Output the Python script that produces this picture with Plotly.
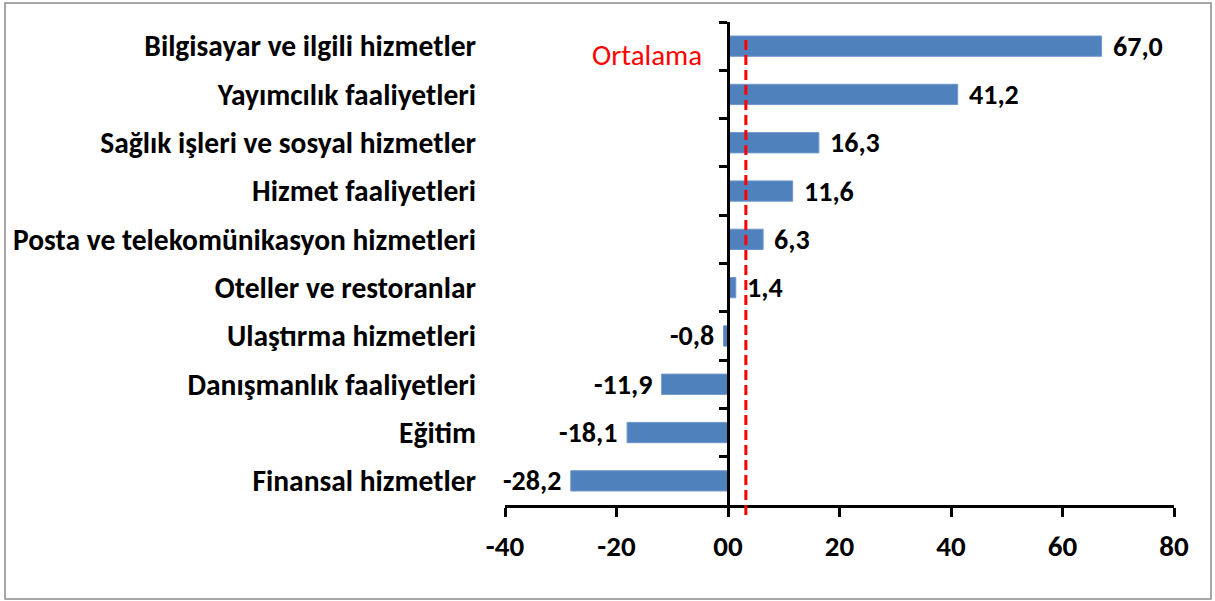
import plotly.graph_objects as go

categories = [
    "Bilgisayar ve ilgili hizmetler",
    "Yayımcılık faaliyetleri",
    "Sağlık işleri ve sosyal hizmetler",
    "Hizmet faaliyetleri",
    "Posta ve telekomünikasyon hizmetleri",
    "Oteller ve restoranlar",
    "Ulaştırma hizmetleri",
    "Danışmanlık faaliyetleri",
    "Eğitim",
    "Finansal hizmetler",
]
values = [67.0, 41.2, 16.3, 11.6, 6.3, 1.4, -0.8, -11.9, -18.1, -28.2]
average_value = 3.2
average_label = "Ortalama"
x_tickvals = [-40, -20, 0, 20, 40, 60, 80]
x_ticktext = ["-40", "-20", "00", "20", "40", "60", "80"]

FONT = "Carlito, Calibri, Lato, sans-serif"
W, H = 1215, 601
L, R, T, B = 505, 41, 22, 96
pw, ph = W - L - R, H - T - B
n = len(categories)

fig = go.Figure()
fig.add_trace(go.Bar(
    x=values, y=categories, orientation="h",
    marker=dict(color="#4F81BD", line=dict(color="#6F96CB", width=1)),
    width=0.42, hoverinfo="skip", showlegend=False,
))
# invisible trace to drive the axis drawn at zero
fig.add_trace(go.Scatter(
    x=[0] * n, y=categories, yaxis="y2", mode="markers",
    marker=dict(opacity=0), hoverinfo="skip", showlegend=False,
))

for v, c in zip(values, categories):
    fig.add_annotation(
        x=v, y=c, text="{:.1f}".format(v).replace(".", ","),
        showarrow=False, xanchor="left" if v >= 0 else "right",
        yanchor="middle",
        xshift=9 if v >= 0 else -8,
        font=dict(family=FONT, size=28, color="black", weight="bold"),
    )

fig.add_annotation(
    x=average_value, xref="x", y=(505 - 55) / ph, yref="paper",
    text=average_label, showarrow=False, xanchor="right", yanchor="middle",
    xshift=-42,
    font=dict(family=FONT, size=29, color="#FF0000"),
)

fig.add_shape(type="line", xref="x", yref="paper",
              x0=average_value, x1=average_value,
              y0=(505 - 515) / ph, y1=(505 - 40) / ph,
              line=dict(color="#FF0000", width=3, dash="10px,5px"))

# outer border
fig.add_shape(type="rect", xref="paper", yref="paper",
              x0=(5 - L) / pw, x1=(1211 - L) / pw,
              y0=(505 - 599) / ph, y1=(505 - 3) / ph,
              line=dict(color="#8c8c8c", width=1.5), layer="below")

fig.update_layout(
    width=W, height=H,
    margin=dict(l=L, r=R, t=T, b=B),
    plot_bgcolor="white", paper_bgcolor="white",
    separators=",.",
    xaxis=dict(
        range=[-40, 80], tickvals=x_tickvals, ticktext=x_ticktext,
        showgrid=False, zeroline=False,
        showline=True, linecolor="black", linewidth=2.5,
        ticks="outside", ticklen=9, tickwidth=2.5, tickcolor="black",
        ticklabelstandoff=4,
        tickfont=dict(family=FONT, size=29, color="black", weight="bold"),
    ),
    yaxis=dict(
        type="category", categoryorder="array", categoryarray=categories,
        range=[n - 0.5, -0.5], autorange=False,
        showgrid=False, zeroline=False,
        showline=False, ticks="", ticklabelstandoff=28,
        tickfont=dict(family=FONT, size=29.5, color="black", weight="bold"),
    ),
    yaxis2=dict(
        type="category", categoryorder="array", categoryarray=categories,
        overlaying="y", matches="y", anchor="free", side="left",
        position=(0 - (-40)) / 120,
        showgrid=False, zeroline=False, showticklabels=False,
        showline=True, linecolor="black", linewidth=2.5,
        ticks="outside", tickson="boundaries", ticklen=8, tickwidth=2.5,
        tickcolor="black",
    ),
)

fig.write_html("out.html", config={"displayModeBar": False},
               post_script="document.body.style.margin='0';")
